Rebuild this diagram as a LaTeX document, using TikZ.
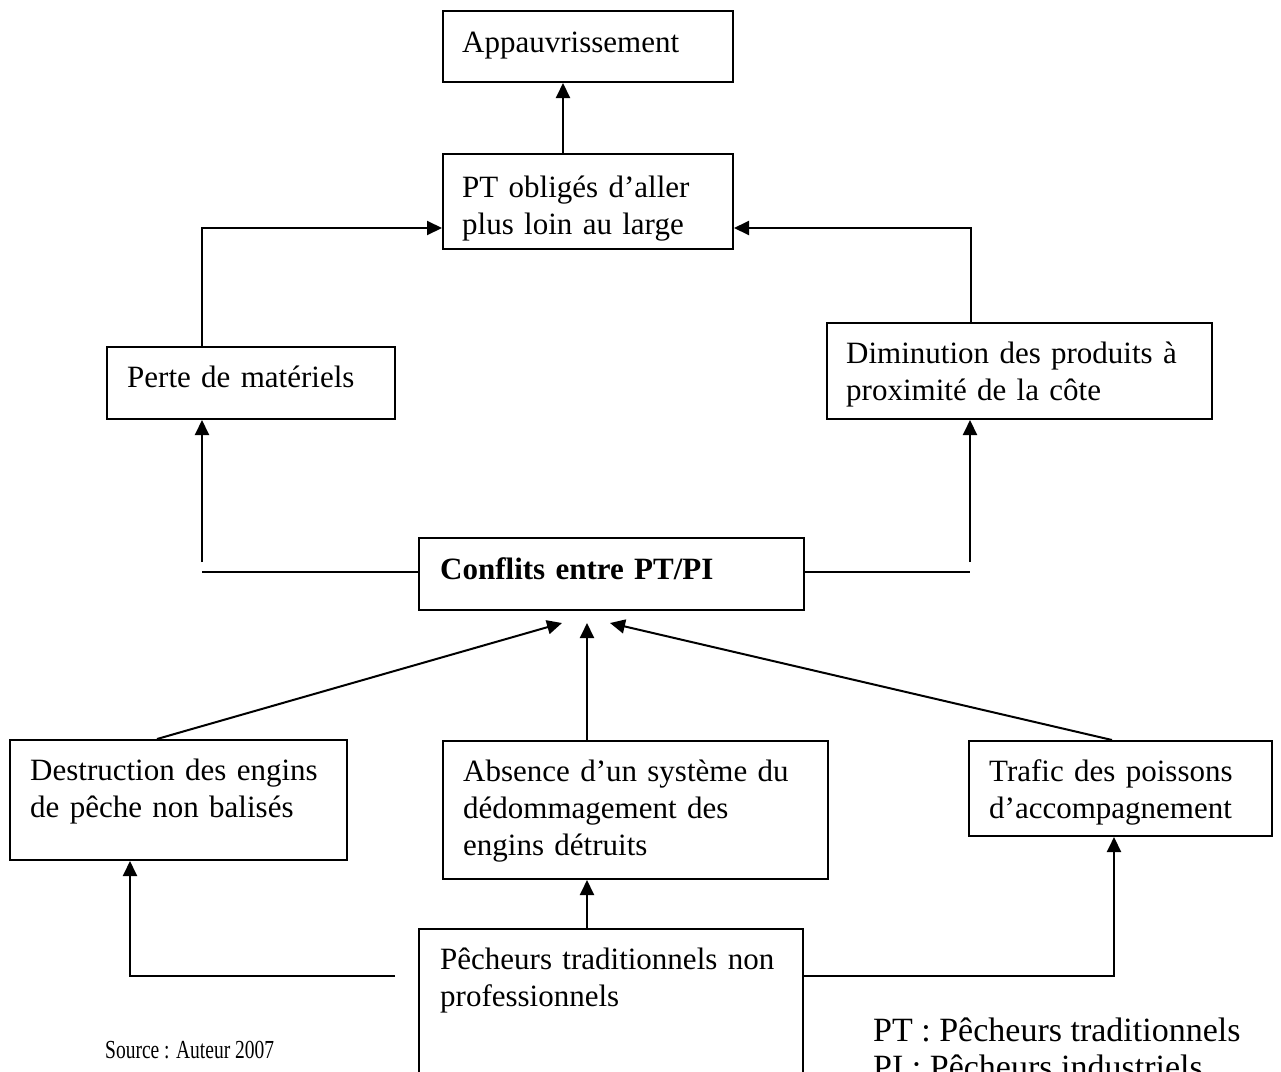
\documentclass[tikz,border=0pt]{standalone}
\usepackage{fontspec}
\setmainfont{Liberation Serif}
\usetikzlibrary{arrows.meta,calc}

\tikzset{
  box/.style={draw, line width=2pt, anchor=north west, inner sep=0pt},
  txt/.style={anchor=base west, inner sep=0pt, align=left, text width=420pt,
    font=\fontsize{31}{37}\selectfont},
  link/.style={line width=2pt},
  arr/.style={line width=2pt, -{Triangle[length=15pt,width=14pt]}},
  note/.style={anchor=base west, inner sep=0pt},
}

\begin{document}
\begin{tikzpicture}[x=1pt,y=-1pt]
\useasboundingbox (0,0) rectangle (1281,1071);

% boxes
\node[box, minimum width=290, minimum height=71]  (app)  at (442,10)  {};
\node[box, minimum width=290, minimum height=95]  (pt)   at (442,153) {};
\node[box, minimum width=288, minimum height=72]  (perte) at (106,346) {};
\node[box, minimum width=385, minimum height=96]  (dim)  at (826,322) {};
\node[box, minimum width=385, minimum height=72]  (conf) at (418,537) {};
\node[box, minimum width=337, minimum height=120] (dest) at (9,739)   {};
\node[box, minimum width=385, minimum height=138] (abs)  at (442,740) {};
\node[box, minimum width=303, minimum height=95]  (traf) at (968,740) {};
\node[box, minimum width=384, minimum height=160] (pech) at (418,928) {};

% box texts
\node[txt] (appT)   at ($(app.north west)+(20,42)$)  {Appauvrissement};
\node[txt] (ptT)    at ($(pt.north west)+(20,44)$)   {PT obligés d’aller\\plus loin au large};
\node[txt] (perteT) at ($(perte.north west)+(21,41)$) {Perte de matériels};
\node[txt] (dimT)   at ($(dim.north west)+(20,41)$)  {Diminution des produits à\\proximité de la côte};
\node[txt] (confT)  at ($(conf.north west)+(22,42)$) {\bfseries Conflits entre PT/PI};
\node[txt] (destT)  at ($(dest.north west)+(21,41)$) {Destruction des engins\\de pêche non balisés};
\node[txt] (absT)   at ($(abs.north west)+(21,41)$)  {Absence d’un système du\\dédommagement des\\engins détruits};
\node[txt] (trafT)  at ($(traf.north west)+(21,41)$) {Trafic des poissons\\d’accompagnement};
\node[txt] (pechT)  at ($(pech.north west)+(22,41)$) {Pêcheurs traditionnels non\\professionnels};

% upper links
\draw[arr] ($(pt.north west)+(121,0)$) -- ($(app.south west)+(121,0)$);
\draw[arr] ($(perte.north west)+(96,0)$) |- ($(pt.south west)+(0,-22)$);
\draw[arr] ($(dim.north west)+(145,0)$) |- ($(pt.south east)+(0,-22)$);

% branches out of the conflict box
\coordinate (cl) at (202,572);
\coordinate (cr) at (970,572);
\draw[link] (conf.west |- cl) -- (cl);
\draw[link] (conf.east |- cr) -- (cr);
\draw[arr] ($(cl)+(0,-10)$) -- (perte.south -| cl);
\draw[arr] ($(cr)+(0,-10)$) -- (dim.south -| cr);

% causes pointing to the conflict box
\coordinate (tipL) at ($(conf.south west)+(144,12)$);
\coordinate (tipM) at ($(conf.south west)+(169,12)$);
\coordinate (tipR) at ($(conf.south west)+(192,12)$);
\draw[arr] ($(dest.north west)+(148,0)$) -- (tipL);
\draw[arr] (abs.north -| tipM) -- (tipM);
\draw[arr] ($(traf.north west)+(144,0)$) -- (tipR);

% links out of the bottom box
\coordinate (pl) at (395,976);
\draw[arr] (pl) -| ($(dest.south west)+(121,0)$);
\draw[arr] (pech.east |- pl) -| ($(traf.south west)+(146,0)$);
\draw[arr] ($(pech.north west)+(169,0)$) -- ($(abs.south west)+(145,0)$);

% source and abbreviations
\node[note, font=\fontsize{26}{28}\selectfont] (src) at (105,1058)
  {\scalebox{0.75}[1]{Source : Auteur 2007}};
\node[note, font=\fontsize{34}{34}\selectfont] (legPT) at (873,1041) {PT : Pêcheurs traditionnels};
\node[note, font=\fontsize{34}{34}\selectfont] (legPI) at (873,1078) {PI : Pêcheurs industriels};
\end{tikzpicture}
\end{document}
